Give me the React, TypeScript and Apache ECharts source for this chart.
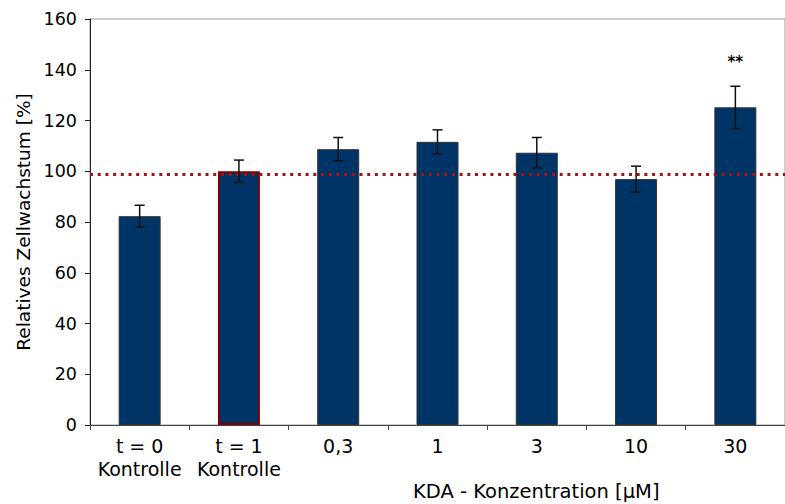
import React, { useEffect, useRef } from "react";
import * as echarts from "echarts";

// Relative cell growth per condition (mean ± SEM, in %)
const categories = ["t = 0\nKontrolle", "t = 1\nKontrolle", "0,3", "1", "3", "10", "30"];
const growth = [82.3, 100, 108.7, 111.6, 107.3, 96.9, 125.2];
const sem = [4.3, 4.4, 4.6, 4.7, 6.0, 5.1, 8.3];
const significance = ["", "", "", "", "", "", "**"];
const referenceLevel = 99;
const yMin = 0;
const yMax = 160;
const yInterval = 20;

const FONT = "DejaVu Sans";

export default function App() {
  const ref = useRef<HTMLDivElement>(null);

  useEffect(() => {
    const chart = echarts.init(ref.current!, null, { renderer: "svg" });

    const renderErrorBar = (params: any, api: any) => {
      const i = api.value(0);
      const mean = api.value(1);
      const err = api.value(2);
      const top = api.coord([i, mean + err]);
      const bottom = api.coord([i, mean - err]);
      const cap = 5;
      const style = { stroke: "#111", lineWidth: 1.5 };
      const children: any[] = [
        { type: "line", shape: { x1: top[0], y1: top[1], x2: bottom[0], y2: bottom[1] }, style },
        { type: "line", shape: { x1: top[0] - cap, y1: top[1], x2: top[0] + cap, y2: top[1] }, style },
        { type: "line", shape: { x1: bottom[0] - cap, y1: bottom[1], x2: bottom[0] + cap, y2: bottom[1] }, style },
      ];
      const mark = significance[params.dataIndex];
      if (mark) {
        children.push({
          type: "text",
          x: top[0],
          y: top[1] - 24,
          style: {
            text: mark,
            fill: "#000",
            font: `bold 15px "${FONT}"`,
            align: "center",
            verticalAlign: "middle",
          },
        });
      }
      return { type: "group", children };
    };

    chart.setOption({
      animation: false,
      backgroundColor: "#fff",
      grid: {
        left: 90,
        right: -8,
        top: 19,
        bottom: 79,
        show: true,
        borderColor: "#9a9a9a",
        borderWidth: 1,
      },
      xAxis: {
        type: "category",
        data: categories,
        axisLine: { lineStyle: { color: "#444", width: 1 } },
        axisTick: { show: true, length: 5, lineStyle: { color: "#444" } },
        axisLabel: {
          color: "#000",
          fontFamily: FONT,
          fontSize: 19,
          lineHeight: 22.7,
          margin: 10,
          interval: 0,
        },
      },
      yAxis: {
        type: "value",
        min: yMin,
        max: yMax,
        interval: yInterval,
        name: "Relatives Zellwachstum [%]",
        nameLocation: "middle",
        nameGap: 57,
        nameTextStyle: { color: "#000", fontFamily: FONT, fontSize: 18.5 },
        axisLine: { show: true, lineStyle: { color: "#222", width: 1 } },
        axisTick: { show: true, length: 5, lineStyle: { color: "#222" } },
        axisLabel: { color: "#000", fontFamily: FONT, fontSize: 17.5, margin: 13 },
        splitLine: { show: false },
      },
      graphic: [
        {
          type: "text",
          left: 413,
          top: 481,
          style: {
            text: "KDA - Konzentration [µM]",
            fill: "#000",
            font: `19.5px "${FONT}"`,
          },
        },
      ],
      series: [
        {
          type: "bar",
          barWidth: 42,
          data: growth.map((v, i) =>
            i === 1
              ? { value: v, itemStyle: { borderColor: "#800000", borderWidth: 2 } }
              : v
          ),
          itemStyle: { color: "#003366", borderColor: "#333", borderWidth: 1 },
          markLine: {
            silent: true,
            symbol: "none",
            label: { show: false },
            lineStyle: { color: "#a01414", type: [3, 4.7], width: 3 },
            data: [{ yAxis: referenceLevel }],
          },
        },
        {
          type: "custom",
          renderItem: renderErrorBar,
          encode: { x: 0, y: 1 },
          data: growth.map((v, i) => [i, v, sem[i]]),
          z: 10,
        },
      ],
    });

    return () => chart.dispose();
  }, []);

  return (
    <div
      ref={ref}
      style={{ position: "absolute", left: 0, top: 0, width: 785, height: 504 }}
    />
  );
}
